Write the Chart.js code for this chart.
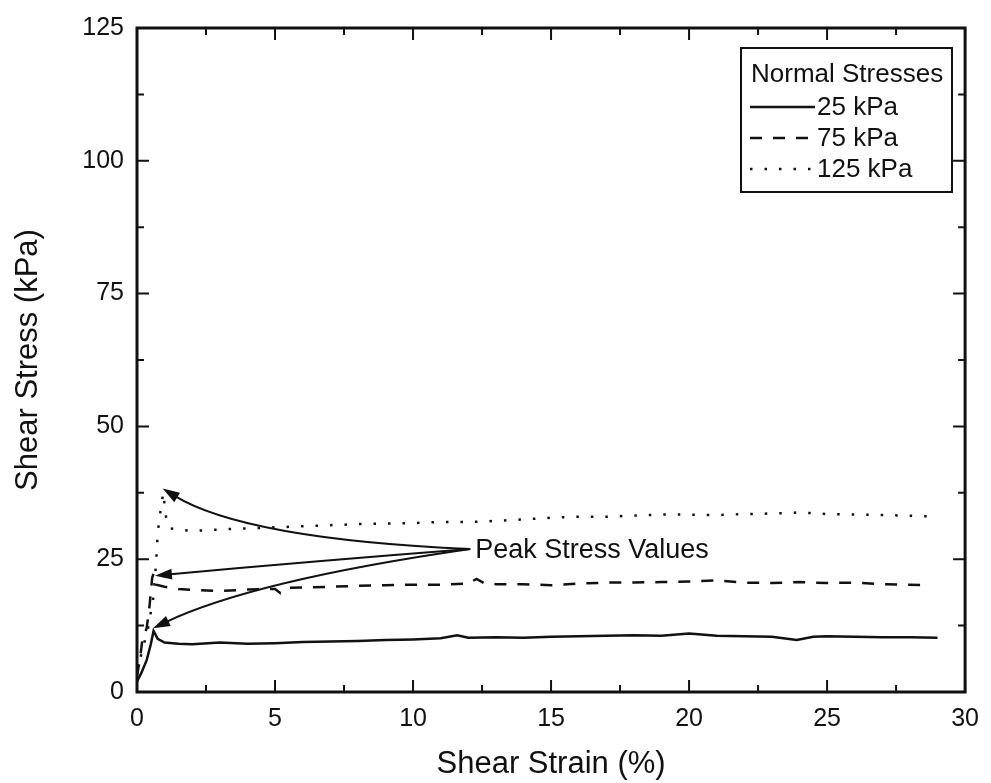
<!DOCTYPE html>
<html>
<head>
<meta charset="utf-8">
<script src="https://cdn.jsdelivr.net/npm/chart.js@4.4.1/dist/chart.umd.min.js"></script>
<style>
  html, body { margin:0; padding:0; background:#fff; }
  #wrap { width:991px; height:783px; position:relative; }
</style>
</head>
<body>
<div id="wrap"><canvas id="c"></canvas></div>
<script>
// Courbes contrainte / deformation
const seriesLabels = ['25 kPa', '75 kPa', '125 kPa'];

const strain25 = [0, 0.15, 0.35, 0.5, 0.6, 0.75, 1.0, 1.5, 2, 3, 4, 5, 6, 7, 8, 9, 10, 11, 11.6, 12, 13, 14, 15, 16, 17, 18, 19, 20, 21, 22, 23, 23.9, 24.5, 25, 26, 27, 28, 29];
const stress25 = [2.0, 3.5, 6.0, 9.0, 11.5, 10.0, 9.3, 9.1, 9.0, 9.3, 9.1, 9.2, 9.4, 9.5, 9.6, 9.8, 9.9, 10.1, 10.7, 10.2, 10.3, 10.2, 10.4, 10.5, 10.6, 10.7, 10.6, 11.0, 10.6, 10.5, 10.4, 9.8, 10.4, 10.5, 10.4, 10.3, 10.3, 10.2];

const strain75 = [0, 0.1, 0.2, 0.35, 0.45, 0.55, 0.6, 0.7, 1.0, 1.5, 2, 3, 4, 5, 5.2, 5.5, 6, 7, 8, 9, 10, 11, 12, 12.3, 12.6, 13, 14, 15, 16, 17, 18, 19, 20, 21, 22, 23, 24, 25, 26, 27, 28, 28.5];
const stress75 = [3, 6, 10, 12, 16, 21.5, 22.3, 20.2, 19.8, 19.4, 19.2, 19.0, 19.3, 19.4, 18.6, 19.6, 19.7, 19.8, 20.0, 20.1, 20.2, 20.2, 20.4, 21.3, 20.4, 20.3, 20.3, 20.1, 20.4, 20.6, 20.6, 20.7, 20.8, 21.0, 20.6, 20.5, 20.7, 20.5, 20.6, 20.3, 20.2, 20.1];

const strain125 = [0, 0.2, 0.4, 0.6, 0.7, 0.75, 0.85, 0.95, 1.05, 1.2, 1.5, 2, 3, 4, 5, 6, 7, 8, 9, 10, 11, 12, 13, 14, 15, 16, 17, 18, 19, 20, 21, 22, 23, 24, 25, 26, 27, 28, 29];
const stress125 = [4, 8, 12, 18, 25, 30, 34, 37.5, 33, 30.8, 30.6, 30.3, 30.6, 30.8, 31.0, 31.2, 31.4, 31.6, 31.7, 31.8, 32.0, 32.0, 32.2, 32.5, 32.8, 33.0, 33.0, 33.2, 33.4, 33.4, 33.3, 33.5, 33.6, 33.8, 33.5, 33.4, 33.3, 33.2, 33.0];

// Fleches "Peak Stress Values" : origine, points de controle, pointes (unites des axes)
const arrowFrom = [12.07, 26.9];
const arrowCtrl = [[3.9, 28.8], [6.36, 24.6], [4.2, 21.0]];
const arrowTips = [[0.93, 38.3], [0.65, 21.9], [0.58, 12.0]];
const noteText = 'Peak Stress Values';

const xTickStep = 2.5, yTickStep = 12.5;
const FONT = '"Liberation Sans", Arial, Helvetica, sans-serif';
const INK = '#111';

const pts = (xs, ys) => xs.map((x, i) => ({ x, y: ys[i] }));
const dashes = [[], [12, 11], [2.5, 12]];

const framePlugin = {
  id: 'frame',
  afterDatasetsDraw(chart) {
    const { ctx, chartArea: a, scales: { x, y } } = chart;
    ctx.save();
    ctx.strokeStyle = INK; ctx.lineWidth = 3;
    ctx.strokeRect(a.left, a.top, a.right - a.left, a.bottom - a.top);
    ctx.lineWidth = 2;
    ctx.beginPath();
    x.ticks.forEach(t => {
      const px = x.getPixelForValue(t.value); const len = t.value % 5 === 0 ? 12 : 7;
      ctx.moveTo(px, a.bottom); ctx.lineTo(px, a.bottom - len);
      ctx.moveTo(px, a.top); ctx.lineTo(px, a.top + len);
    });
    y.ticks.forEach(t => {
      const py = y.getPixelForValue(t.value); const len = t.value % 25 === 0 ? 12 : 7;
      ctx.moveTo(a.left, py); ctx.lineTo(a.left + len, py);
      ctx.moveTo(a.right, py); ctx.lineTo(a.right - len, py);
    });
    ctx.stroke();

    // fleches
    const P = v => [x.getPixelForValue(v[0]), y.getPixelForValue(v[1])];
    const o = P(arrowFrom);
    ctx.lineWidth = 2; ctx.fillStyle = INK;
    arrowTips.forEach((tip, i) => {
      const c = P(arrowCtrl[i]); const e = P(tip);
      const ang = Math.atan2(e[1] - c[1], e[0] - c[0]);
      const hl = 17, hw = 5.5;
      const bx = e[0] - Math.cos(ang) * hl, by = e[1] - Math.sin(ang) * hl;
      ctx.beginPath(); ctx.moveTo(o[0], o[1]);
      ctx.quadraticCurveTo(c[0], c[1], bx + Math.cos(ang) * 4, by + Math.sin(ang) * 4);
      ctx.stroke();
      ctx.beginPath();
      ctx.moveTo(e[0], e[1]);
      ctx.lineTo(bx + Math.sin(ang) * hw, by - Math.cos(ang) * hw);
      ctx.lineTo(bx - Math.sin(ang) * hw, by + Math.cos(ang) * hw);
      ctx.closePath(); ctx.fill();
    });
    ctx.font = '27px ' + FONT; ctx.textBaseline = 'middle'; ctx.textAlign = 'left';
    ctx.fillText(noteText, o[0] + 5, o[1] + 1);

    // legende encadree
    const lx = 741, ly = 48, lw = 211, lh = 144;
    ctx.fillStyle = '#fff'; ctx.fillRect(lx, ly, lw, lh);
    ctx.lineWidth = 2; ctx.strokeStyle = INK; ctx.strokeRect(lx, ly, lw, lh);
    ctx.fillStyle = INK; ctx.font = '26px ' + FONT;
    ctx.fillText('Normal Stresses', lx + 10, ly + 27);
    chart.data.datasets.forEach((ds, i) => {
      const yy = ly + 59 + i * 31;
      ctx.save();
      ctx.lineWidth = 2.5; ctx.setLineDash(ds.borderDash || []);
      ctx.beginPath(); ctx.moveTo(lx + 9, yy); ctx.lineTo(lx + 74, yy); ctx.stroke();
      ctx.restore();
      ctx.fillText(ds.label, lx + 76, yy + 1);
    });
    ctx.restore();
  }
};

new Chart(document.getElementById('c'), {
  type: 'line',
  data: {
    datasets: [
      { label: seriesLabels[0], data: pts(strain25, stress25) },
      { label: seriesLabels[1], data: pts(strain75, stress75) },
      { label: seriesLabels[2], data: pts(strain125, stress125) }
    ].map((d, i) => Object.assign(d, { borderColor: INK, borderWidth: 2.5, borderDash: dashes[i], pointRadius: 0, tension: 0, fill: false }))
  },
  options: {
    responsive: true, maintainAspectRatio: false, animation: false,
    layout: { padding: { top: 23, right: 19, left: 0, bottom: 0 } },
    plugins: { legend: { display: false }, tooltip: { enabled: false } },
    scales: {
      x: {
        type: 'linear', min: 0, max: 30,
        afterFit: s => { s.height = 91; },
        grid: { display: false, drawTicks: false }, border: { display: false },
        ticks: { stepSize: xTickStep, autoSkip: false, maxRotation: 0, padding: 12, color: INK, font: { family: FONT, size: 25 },
          callback: v => v % 5 === 0 ? String(v) : '' },
        title: { display: true, text: 'Shear Strain (%)', color: INK, font: { family: FONT, size: 31 }, padding: { top: 0, bottom: 0 } }
      },
      y: {
        min: 0, max: 125,
        afterFit: s => { s.width = 137; },
        grid: { display: false, drawTicks: false }, border: { display: false },
        ticks: { stepSize: yTickStep, autoSkip: false, padding: 13, color: INK, font: { family: FONT, size: 25 },
          callback: v => v % 25 === 0 ? String(v) : '' },
        title: { display: true, text: 'Shear Stress (kPa)', color: INK, font: { family: FONT, size: 31 }, padding: { top: 10, bottom: 0 } }
      }
    }
  },
  plugins: [framePlugin]
});
</script>
</body>
</html>
